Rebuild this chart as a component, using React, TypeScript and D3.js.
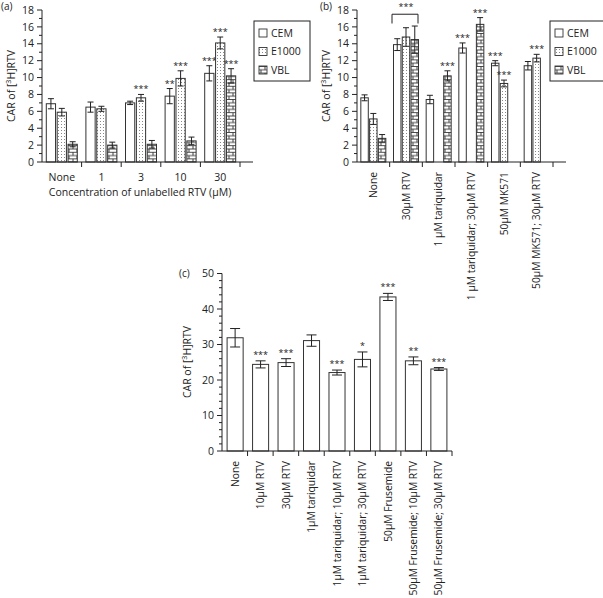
import React from "react";
import * as d3 from "d3";

// ---------- DATA ----------
const seriesNames = ["CEM", "E1000", "VBL"];

// Panel (a)
const aGroups = ["None", "1", "3", "10", "30"];
const aMean = [
  [6.9, 5.9, 2.1],
  [6.5, 6.3, 2.0],
  [7.0, 7.6, 2.1],
  [7.8, 9.9, 2.5],
  [10.5, 14.1, 10.2],
];
const aErr = [
  [0.6, 0.45, 0.3],
  [0.6, 0.3, 0.35],
  [0.2, 0.4, 0.45],
  [0.9, 0.9, 0.45],
  [0.9, 0.7, 0.85],
];
const aSig = [
  ["", "", ""],
  ["", "", ""],
  ["", "***", ""],
  ["**", "***", ""],
  ["***", "***", "***"],
];

// Panel (b)
const bGroups = [
  "None",
  "30µM RTV",
  "1 µM tariquidar",
  "1 µM tariquidar; 30µM RTV",
  "50µM MK571",
  "50µM MK571; 30µM RTV",
];
const bMean: (number | null)[][] = [
  [7.6, 5.1, 2.8],
  [13.9, 14.8, 14.5],
  [7.4, null, 10.2],
  [13.5, null, 16.3],
  [11.7, 9.3, null],
  [11.4, 12.3, null],
];
const bErr: (number | null)[][] = [
  [0.35, 0.65, 0.45],
  [0.7, 1.1, 1.6],
  [0.5, null, 0.6],
  [0.6, null, 0.8],
  [0.3, 0.4, null],
  [0.5, 0.45, null],
];
const bSig = [
  ["", "", ""],
  ["", "", ""],
  ["", "", "***"],
  ["***", "", "***"],
  ["***", "***", ""],
  ["", "***", ""],
];
const bBracketGroup = "30µM RTV";
const bBracketLevel = 17.5;
const bBracketLow = 16.4;

// Panel (c)
const cGroups = [
  "None",
  "10µM RTV",
  "30µM RTV",
  "1µM tariquidar",
  "1µM tariquidar; 10µM RTV",
  "1µM tariquidar; 30µM RTV",
  "50µM Frusemide",
  "50µM Frusemide; 10µM RTV",
  "50µM Frusemide; 30µM RTV",
];
const cMean = [31.9, 24.4, 24.9, 31.1, 22.1, 25.8, 43.4, 25.4, 23.1];
const cErr = [2.6, 1.0, 1.1, 1.6, 0.7, 2.1, 1.0, 1.1, 0.4];
const cSig = ["", "***", "***", "", "***", "*", "***", "**", "***"];

const abTicks = [0, 2, 4, 6, 8, 10, 12, 14, 16, 18];
const abMinor = [1, 3, 5, 7, 9, 11, 13, 15, 17];
const cTicks = [0, 10, 20, 30, 40, 50];
const cMinor = [2, 4, 6, 8, 12, 14, 16, 18, 22, 24, 26, 28, 32, 34, 36, 38, 42, 44, 46, 48];

// ---------- STYLE ----------
const FONT = "'Open Sans', 'DejaVu Sans', sans-serif";
const INK = "#222";
const BAR = "#333";
const fills = ["#fff", "url(#pDots)", "url(#pBrick)"];

function YLabel({ x, y }: { x: number; y: number }) {
  return (
    <text
      transform={`translate(${x},${y}) rotate(-90)`}
      textAnchor="middle"
      fontSize={10.5}
      fontFamily={FONT}
      fill={INK}
    >
      CAR of [<tspan fontSize={7} dy={-4}>3</tspan>
      <tspan dy={4}>H]RTV</tspan>
    </text>
  );
}

function YAxis({
  y,
  x0,
  ticks,
  minor,
}: {
  y: d3.ScaleLinear<number, number>;
  x0: number;
  ticks: number[];
  minor: number[];
}) {
  const r = y.range();
  return (
    <g>
      <line x1={x0} x2={x0} y1={r[0]} y2={r[1]} stroke={INK} strokeWidth={1} />
      {ticks.map((t) => (
        <g key={"t" + t}>
          <line x1={x0 - 5} x2={x0} y1={y(t)} y2={y(t)} stroke={INK} />
          <text
            x={x0 - 8}
            y={y(t)}
            dy="0.35em"
            textAnchor="end"
            fontSize={10.5}
            fontFamily={FONT}
            fill={INK}
          >
            {t}
          </text>
        </g>
      ))}
      {minor.map((t) => (
        <line key={"m" + t} x1={x0 - 3} x2={x0} y1={y(t)} y2={y(t)} stroke={INK} />
      ))}
    </g>
  );
}

function ErrBar({ cx, top, bot, w }: { cx: number; top: number; bot: number; w: number }) {
  return (
    <g stroke={INK} strokeWidth={1}>
      <line x1={cx} x2={cx} y1={top} y2={bot} />
      <line x1={cx - w / 2} x2={cx + w / 2} y1={top} y2={top} />
      <line x1={cx - w / 2} x2={cx + w / 2} y1={bot} y2={bot} />
    </g>
  );
}

function Legend({ x, y }: { x: number; y: number }) {
  return (
    <g>
      <rect x={x} y={y} width={56} height={60} fill="#fff" stroke={INK} strokeWidth={1} />
      {seriesNames.map((s, i) => (
        <g key={s}>
          <rect
            x={x + 5}
            y={y + 8 + i * 18.5}
            width={8}
            height={8}
            fill={fills[i]}
            stroke={BAR}
            strokeWidth={0.9}
          />
          <text
            x={x + 17}
            y={y + 12 + i * 18.5}
            dy="0.35em"
            fontSize={10.5}
            fontFamily={FONT}
            fill={INK}
          >
            {s}
          </text>
        </g>
      ))}
    </g>
  );
}

function GroupedPanel({
  groups,
  means,
  errs,
  sigs,
  x0,
  x1,
  innerHalf,
  rotateLabels,
}: {
  groups: string[];
  means: (number | null)[][];
  errs: (number | null)[][];
  sigs: string[][];
  x0: number;
  x1: number;
  innerHalf: number;
  rotateLabels: boolean;
}) {
  const y = d3.scaleLinear().domain([0, 18]).range([162, 10]);
  const x = d3.scaleBand<string>().domain(groups).range([x0, x1]);
  const xi = d3
    .scaleBand<string>()
    .domain(seriesNames)
    .range([-innerHalf, innerHalf])
    .paddingInner(0.15);
  const bw = xi.bandwidth();
  const base = y(0);
  return (
    <g>
      {groups.map((g, gi) => {
        const c = (x(g) as number) + x.bandwidth() / 2;
        return (
          <g key={g}>
            {seriesNames.map((s, si) => {
              const v = means[gi][si];
              const e = errs[gi][si];
              if (v == null || e == null) return null;
              const bx = c + (xi(s) as number);
              return (
                <g key={s}>
                  <rect
                    x={bx}
                    y={y(v)}
                    width={bw}
                    height={base - y(v)}
                    fill={fills[si]}
                    stroke={BAR}
                    strokeWidth={1}
                  />
                  <ErrBar cx={bx + bw / 2} top={y(v + e)} bot={y(v - e)} w={6} />
                  {sigs[gi][si] && (
                    <text
                      x={bx + bw / 2}
                      y={y(v + e) - 2}
                      textAnchor="middle"
                      fontSize={9}
                      fontFamily={FONT}
                      fill={INK}
                    >
                      {sigs[gi][si]}
                    </text>
                  )}
                </g>
              );
            })}
            {rotateLabels ? (
              <text
                transform={`translate(${c},${base + 10}) rotate(-90)`}
                textAnchor="end"
                dy="0.35em"
                fontSize={10.3}
                fontFamily={FONT}
                fill={INK}
              >
                {g}
              </text>
            ) : (
              <text
                x={c}
                y={base + 19}
                textAnchor="middle"
                fontSize={10.5}
                fontFamily={FONT}
                fill={INK}
              >
                {g}
              </text>
            )}
          </g>
        );
      })}
      <line x1={x0} x2={x1 + 13} y1={base} y2={base} stroke={INK} />
      {groups.map((g) => (
        <line
          key={"xt" + g}
          x1={(x(g) as number) + x.bandwidth()}
          x2={(x(g) as number) + x.bandwidth()}
          y1={base}
          y2={base + 5}
          stroke={INK}
        />
      ))}
      <YAxis y={y} x0={x0} ticks={abTicks} minor={abMinor} />
    </g>
  );
}

export default function App() {
  // Panel (b) bracket
  const yb = d3.scaleLinear().domain([0, 18]).range([162, 10]);
  const xb = d3.scaleBand<string>().domain(bGroups).range([357, 553]);
  const bc = (xb(bBracketGroup) as number) + xb.bandwidth() / 2;

  // Panel (c)
  const yc = d3.scaleLinear().domain([0, 50]).range([451, 273.5]);
  const xc = d3.scaleBand<string>().domain(cGroups).range([222, 452]).paddingInner(0.37).paddingOuter(0.2);
  const xcTicks = d3.scaleBand<string>().domain(cGroups).range([222, 452]);

  return (
    <svg
      width={603}
      height={598}
      style={{ position: "absolute", left: 0, top: 0, background: "#fff" }}
    >
      <defs>
        <pattern id="pDots" patternUnits="userSpaceOnUse" width={3} height={3}>
          <rect width={3} height={3} fill="#fff" />
          <rect x={1} y={1} width={1} height={1} fill="#888" />
        </pattern>
        <pattern id="pBrick" patternUnits="userSpaceOnUse" width={8} height={6.6}>
          <rect width={8} height={6.6} fill="#fff" />
          <line x1={0} x2={8} y1={0.5} y2={0.5} stroke="#333" strokeWidth={0.9} />
          <line x1={0} x2={8} y1={3.8} y2={3.8} stroke="#333" strokeWidth={0.9} />
          <line x1={1} x2={1} y1={0.5} y2={3.8} stroke="#333" strokeWidth={0.9} />
          <line x1={5} x2={5} y1={3.8} y2={6.6} stroke="#333" strokeWidth={0.9} />
        </pattern>
      </defs>

      {/* Panel (a) */}
      <text x={1} y={10} fontSize={10} fontFamily={FONT} fill={INK}>
        (a)
      </text>
      <YLabel x={15} y={86} />
      <GroupedPanel
        groups={aGroups}
        means={aMean}
        errs={aErr}
        sigs={aSig}
        x0={42}
        x1={240}
        innerHalf={15.5}
        rotateLabels={false}
      />
      <text
        x={140}
        y={196}
        textAnchor="middle"
        fontSize={10.5}
        fontFamily={FONT}
        fill={INK}
      >
        Concentration of unlabelled RTV (µM)
      </text>
      <Legend x={254} y={21} />

      {/* Panel (b) */}
      <text x={320} y={10} fontSize={10} fontFamily={FONT} fill={INK}>
        (b)
      </text>
      <YLabel x={330} y={86} />
      <GroupedPanel
        groups={bGroups}
        means={bMean}
        errs={bErr}
        sigs={bSig}
        x0={357}
        x1={553}
        innerHalf={12.5}
        rotateLabels={true}
      />
      <path
        d={`M${bc - 14},${yb(bBracketLow)}V${yb(bBracketLevel)}H${bc + 12}V${yb(bBracketLow)}`}
        fill="none"
        stroke={INK}
      />
      <text
        x={bc}
        y={yb(bBracketLevel) - 4}
        textAnchor="middle"
        fontSize={9}
        fontFamily={FONT}
        fill={INK}
      >
        ***
      </text>
      <Legend x={550} y={21} />

      {/* Panel (c) */}
      <text x={179} y={277} fontSize={10} fontFamily={FONT} fill={INK}>
        (c)
      </text>
      <YLabel x={191} y={362} />
      {cGroups.map((g, i) => {
        const bx = xc(g) as number;
        const bw = xc.bandwidth();
        const cx = bx + bw / 2;
        return (
          <g key={g}>
            <rect
              x={bx}
              y={yc(cMean[i])}
              width={bw}
              height={yc(0) - yc(cMean[i])}
              fill="#fff"
              stroke={BAR}
              strokeWidth={1}
            />
            <ErrBar cx={cx} top={yc(cMean[i] + cErr[i])} bot={yc(cMean[i] - cErr[i])} w={10} />
            {cSig[i] && (
              <text
                x={cx}
                y={yc(cMean[i] + cErr[i]) - 3}
                textAnchor="middle"
                fontSize={9}
                fontFamily={FONT}
                fill={INK}
              >
                {cSig[i]}
              </text>
            )}
            <text
              transform={`translate(${cx},${yc(0) + 10}) rotate(-90)`}
              textAnchor="end"
              dy="0.35em"
              fontSize={10.3}
              fontFamily={FONT}
              fill={INK}
            >
              {g}
            </text>
          </g>
        );
      })}
      <line x1={222} x2={452} y1={yc(0)} y2={yc(0)} stroke={INK} />
      {cGroups.map((g) => (
        <line
          key={"ct" + g}
          x1={(xcTicks(g) as number) + xcTicks.bandwidth()}
          x2={(xcTicks(g) as number) + xcTicks.bandwidth()}
          y1={yc(0)}
          y2={yc(0) + 5}
          stroke={INK}
        />
      ))}
      <YAxis y={yc} x0={222} ticks={cTicks} minor={cMinor} />
    </svg>
  );
}
